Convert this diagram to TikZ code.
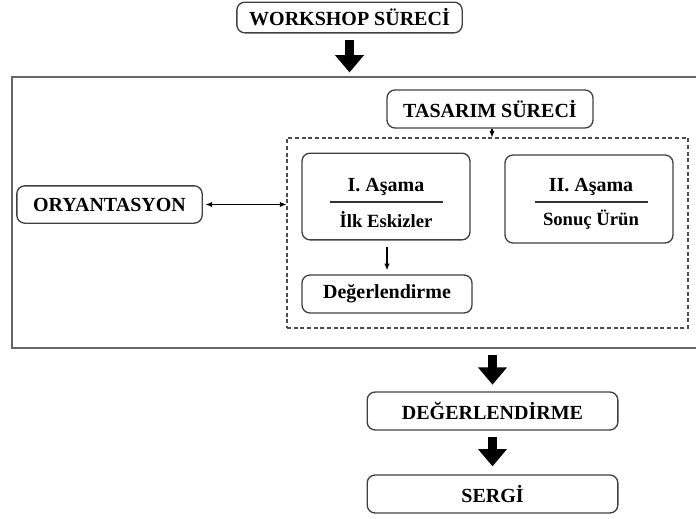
\documentclass[tikz,border=0pt]{standalone}
\usepackage{fontspec}
\setmainfont{Liberation Serif}
\usetikzlibrary{arrows.meta}

\begin{document}
\begin{tikzpicture}[x=0.75pt, y=-0.75pt,
  box/.style={draw=black!75, line width=1pt, rounded corners=6pt, inner sep=0pt,
    font=\fontsize{15}{18}\selectfont\bfseries},
  txt/.style={inner sep=0pt, font=\fontsize{15}{18}\selectfont\bfseries},
  subtxt/.style={inner sep=0pt, font=\fontsize{14}{16}\selectfont\bfseries},
  bigarrow/.style={line width=7pt, -{Triangle[width=21pt, length=13pt]}},
  thinarrow/.style={line width=0.8pt, -{Latex[length=5pt, width=4pt]}}]
  \useasboundingbox (0,0) rectangle (696,518);

  \node[box, minimum width=169pt, minimum height=23pt] (workshop) at (349.5,17.5) {WORKSHOP SÜRECİ};
  \node[draw=black!60, line width=1.1pt, inner sep=0pt, minimum width=520pt, minimum height=203pt] (outer) at (358.5,212.5) {};
  \node[box, minimum width=154.5pt, minimum height=28.5pt] (tasarim) at (490,109) {TASARIM SÜRECİ};
  \node[draw=black!70, dash pattern=on 3pt off 2pt, line width=0.8pt, inner sep=0pt,
    minimum width=300.75pt, minimum height=142.5pt] (surec) at (487.5,233) {};

  % birinci asama
  \node[box, minimum width=126pt, minimum height=65pt] (asama1) at (386,196.5) {};
  \node[txt] (baslik1) at (386,187) {I. Aşama};
  \node[subtxt] (alt1) at (386,220) {İlk Eskizler};
  \draw[black!80, line width=0.8pt] (330,202) -- (443,202);
  \node[box, minimum width=127.5pt, minimum height=28.5pt] (deg) at (387,294) {Değerlendirme};

  % ikinci asama
  \node[box, minimum width=126pt, minimum height=66pt] (asama2) at (589,199) {};
  \node[txt] (baslik2) at (591,187) {II. Aşama};
  \node[subtxt] (alt2) at (591,220) {Sonuç Ürün};
  \draw[black!80, line width=0.8pt] (535,202) -- (648,202);

  \node[box, minimum width=139pt, minimum height=28pt] (oryan) at (109.5,204.5) {ORYANTASYON};

  \node[box, minimum width=188pt, minimum height=28.5pt] (degerlendirme) at (492.5,411) {DEĞERLENDİRME};
  \node[box, minimum width=188pt, minimum height=28.5pt] (sergi) at (492.5,494) {SERGİ};

  % oklar
  \draw[bigarrow, shorten <=5pt, shorten >=3pt] (workshop.south) -- (workshop.south |- outer.north);
  \draw[bigarrow, shorten <=5pt, shorten >=5pt] (degerlendirme.north |- outer.south) -- (degerlendirme.north);
  \draw[bigarrow, shorten <=5pt, shorten >=6pt] (degerlendirme.south) -- (sergi.north);
  \draw[thinarrow] ([xshift=1.5pt]tasarim.south) coordinate (ts) -- (ts |- surec.north);
  \draw[thinarrow, shorten <=5pt, shorten >=3pt] (asama1.south -| deg.north) -- (deg.north);
  \draw[thinarrow, {Latex[length=5pt, width=4pt]}-{Latex[length=5pt, width=4pt]}, shorten <=2pt]
    (oryan.east) -- (oryan.east -| surec.west);
\end{tikzpicture}
\end{document}
